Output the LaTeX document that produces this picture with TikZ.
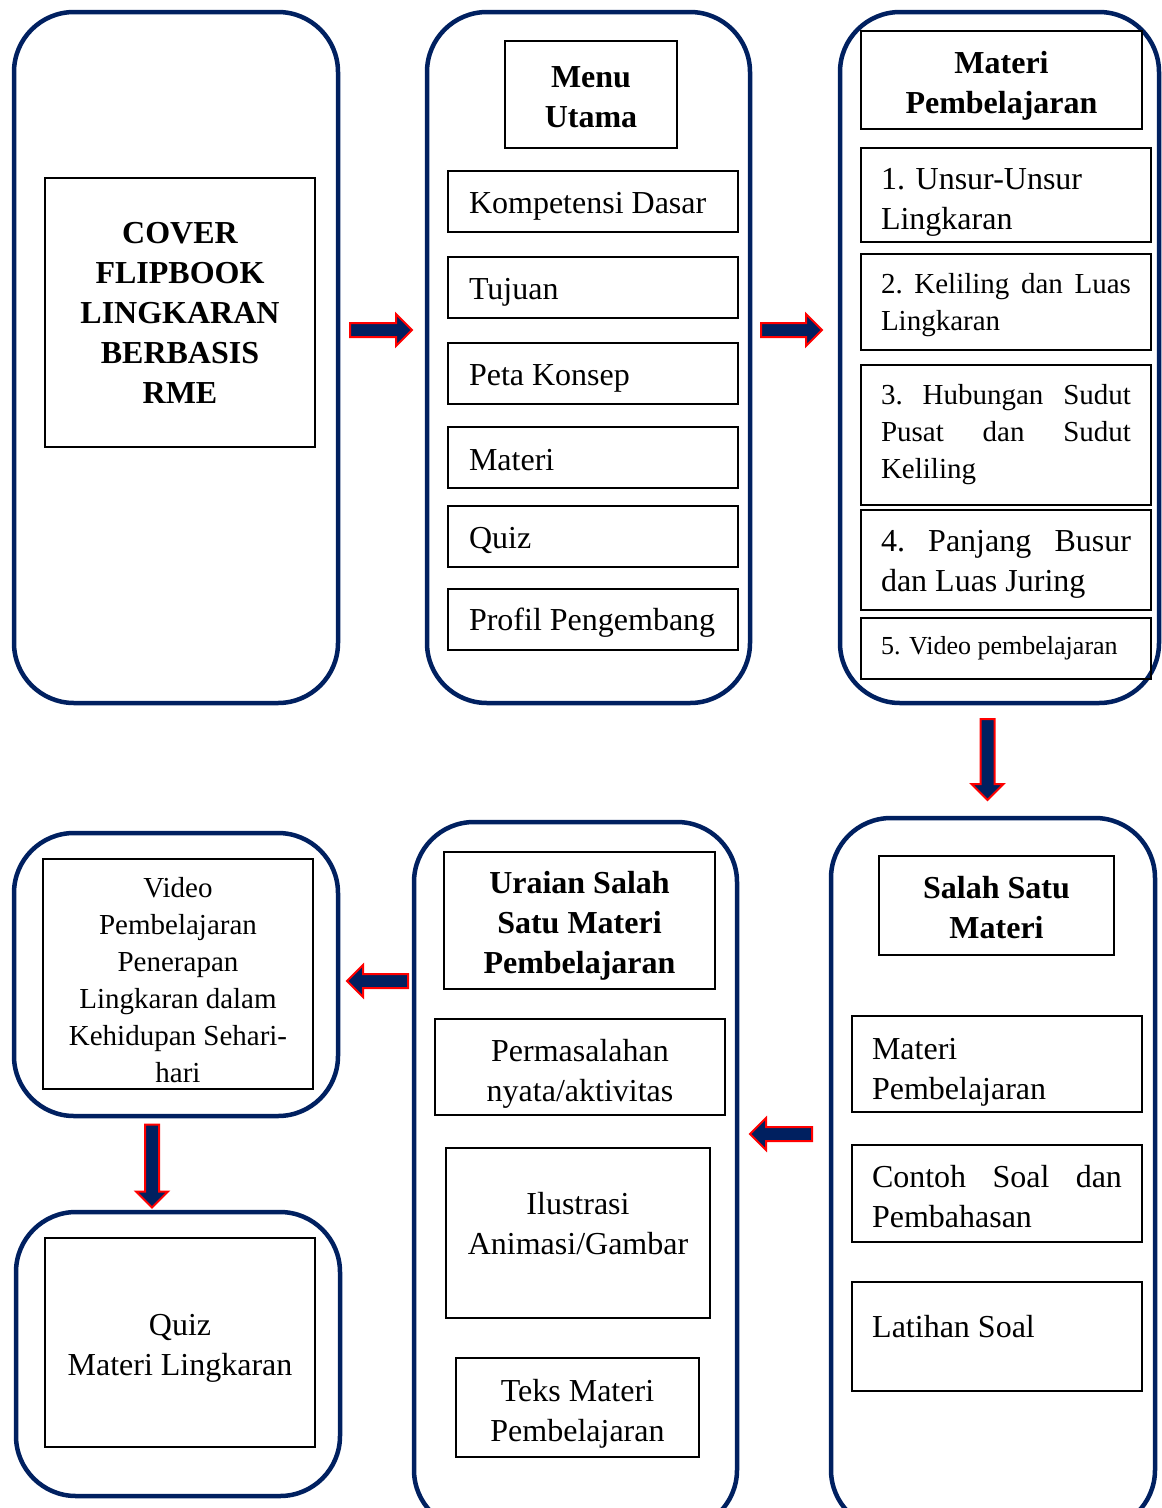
\documentclass[tikz,border=0pt]{standalone}
\usepackage{fontspec}
\setmainfont{Liberation Serif}
\usetikzlibrary{shapes.arrows}
\definecolor{navy}{RGB}{0,32,96}
\newcommand\myfbig{\fontsize{32}{40}\selectfont\hyphenpenalty=10000 }
\newcommand\myfmid{\fontsize{29}{37}\selectfont\hyphenpenalty=10000 }
\newcommand\myfsml{\fontsize{26}{32}\selectfont\hyphenpenalty=10000 }
\tikzset{
  panel/.style={draw=navy, line width=4.5pt, rounded corners=60pt, inner sep=0pt},
  box/.style={draw=black, line width=2pt, inner sep=0pt, font=\myfbig},
  bbox/.style={box, font=\myfbig\bfseries, align=flush center},
  cbox/.style={box, align=flush center},
  lbox/.style={box, align=flush left},
  txt/.style={inner sep=0pt, font=\myfbig, align=flush center},
  lowtxt/.style={execute at begin node={\rule{0pt}{#1}}},
  barrow/.style={single arrow, draw=red, fill=navy, line width=2pt,
    minimum height=#1, minimum width=30pt, single arrow head extend=9pt,
    single arrow tip angle=90, inner xsep=0pt, inner ysep=6pt}
}
\begin{document}
\begin{tikzpicture}[x=1pt,y=-1pt]
\useasboundingbox (0,0) rectangle (1162,1508);
\clip (0,0) rectangle (1162,1508);

% panels
\node[panel, minimum width=324pt, minimum height=691pt] (p1) at (176,357.5) {};
\node[panel, minimum width=323pt, minimum height=691pt] (p2) at (588.5,357.5) {};
\node[panel, minimum width=319pt, minimum height=691pt] (p3) at (999.5,357.5) {};
\node[panel, minimum width=324pt, minimum height=283pt] (p4) at (176,974.5) {};
\node[panel, minimum width=324pt, minimum height=284pt] (p5) at (178,1354) {};
\node[panel, minimum width=323pt, minimum height=708pt] (p6) at (575.5,1176) {};
\node[panel, minimum width=324pt, minimum height=712pt] (p7) at (993,1174) {};

% panel 1
\node[bbox, minimum width=270pt, minimum height=269pt, text width=250pt] (cover) at (180,312.5)
  {COVER\\FLIPBOOK\\LINGKARAN\\BERBASIS\\RME};

% panel 2
\node[bbox, lowtxt=0.85em, minimum width=172pt, minimum height=107pt, text width=160pt] (menu) at (591,94.5) {Menu\\Utama};
\node[lbox, lowtxt=0.95em, minimum width=290pt, minimum height=61pt, text width=248pt] (kd) at (593,201.5) {Kompetensi Dasar};
\node[lbox, lowtxt=0.95em, minimum width=290pt, minimum height=61pt, text width=248pt] (tuj) at (593,287.5) {Tujuan};
\node[lbox, lowtxt=0.95em, minimum width=290pt, minimum height=61pt, text width=248pt] (peta) at (593,373.5) {Peta Konsep};
\node[lbox, lowtxt=0.85em, minimum width=290pt, minimum height=61pt, text width=248pt] (mat) at (593,457.5) {Materi};
\node[lbox, lowtxt=0.9em, minimum width=290pt, minimum height=61pt, text width=248pt] (quiz) at (593,536.5) {Quiz};
\node[lbox, lowtxt=0.9em, minimum width=290pt, minimum height=61pt, text width=248pt] (prof) at (593,619.5) {Profil Pengembang};

% panel 3
\node[bbox, lowtxt=1.05em, minimum width=281pt, minimum height=98pt, text width=260pt] (mp) at (1001.5,80) {Materi\\Pembelajaran};
\node[lbox, lowtxt=1.15em, minimum width=290pt, minimum height=94pt, text width=250pt] (m1) at (1006,195) {1. Unsur-Unsur\\Lingkaran};
\node[lbox, lowtxt=0.9em, font=\myfmid, minimum width=290pt, minimum height=96pt, text width=250pt] (m2) at (1006,302)
  {2.\hfill Keliling\hfill dan\hfill Luas\\Lingkaran};
\node[lbox, font=\myfmid, minimum width=290pt, minimum height=140pt, text width=250pt] (m3) at (1006,435)
  {3.\hfill Hubungan\hfill Sudut\\Pusat\hfill dan\hfill Sudut\\Keliling};
\node[lbox, lowtxt=0.95em, minimum width=290pt, minimum height=100pt, text width=250pt] (m4) at (1006,560)
  {4.\hfill Panjang\hfill Busur\\dan Luas Juring};
\node[lbox, font=\myfsml, minimum width=290pt, minimum height=61pt, text width=250pt] (m5) at (1006,648.5)
  {5. Video pembelajaran};

% panel 4
\node[cbox, lowtxt=1.1em, font=\myfmid, minimum width=270pt, minimum height=230pt, text width=250pt] (vid) at (178,974)
  {Video\\Pembelajaran\\Penerapan\\Lingkaran dalam\\Kehidupan Sehari-\\hari};

% panel 5
\node[cbox, lowtxt=1.0em, minimum width=270pt, minimum height=209pt, text width=250pt] (qz) at (180,1342.5)
  {Quiz\\Materi Lingkaran};

% panel 6
\node[bbox, lowtxt=1.0em, minimum width=271pt, minimum height=137pt, text width=255pt] (ura) at (579.5,920.5)
  {Uraian Salah\\Satu Materi\\Pembelajaran};
\node[cbox, lowtxt=1.15em, minimum width=290pt, minimum height=96pt, text width=270pt] (perm) at (580,1067)
  {Permasalahan\\nyata/aktivitas};
\node[box, minimum width=264pt, minimum height=170pt] (ilu) at (578,1233) {};
\node[txt] (ilutxt) at (578,1224) {Ilustrasi\\Animasi/Gambar};
\node[cbox, lowtxt=1.1em, minimum width=243pt, minimum height=99pt, text width=230pt] (teks) at (577.5,1407.5)
  {Teks Materi\\Pembelajaran};

% panel 7
\node[bbox, lowtxt=0.85em, minimum width=235pt, minimum height=99pt, text width=220pt] (ssm) at (996.5,905.5) {Salah Satu\\Materi};
\node[lbox, lowtxt=1.15em, minimum width=290pt, minimum height=96pt, text width=250pt] (mp2) at (997,1064) {Materi\\Pembelajaran};
\node[lbox, lowtxt=0.9em, minimum width=290pt, minimum height=97pt, text width=250pt] (cs) at (997,1193.5)
  {Contoh\hfill Soal\hfill dan\\Pembahasan};
\node[box, minimum width=290pt, minimum height=109pt] (lat) at (997,1336.5) {};
\node[txt, anchor=west] (lattxt) at (872,1327) {Latihan Soal};

% block arrows
\node[barrow=62pt] (a1) at (377.5,330) {};
\node[barrow=61pt] (a2) at (788,330) {};
\node[barrow=81pt, rotate=-90] (a3) at (987.5,756) {};
\node[barrow=62pt, rotate=180] (a4) at (784.5,1134) {};
\node[barrow=61pt, rotate=180] (a5) at (381,981) {};
\node[barrow=83pt, rotate=-90] (a6) at (152,1162.5) {};
\end{tikzpicture}
\end{document}
